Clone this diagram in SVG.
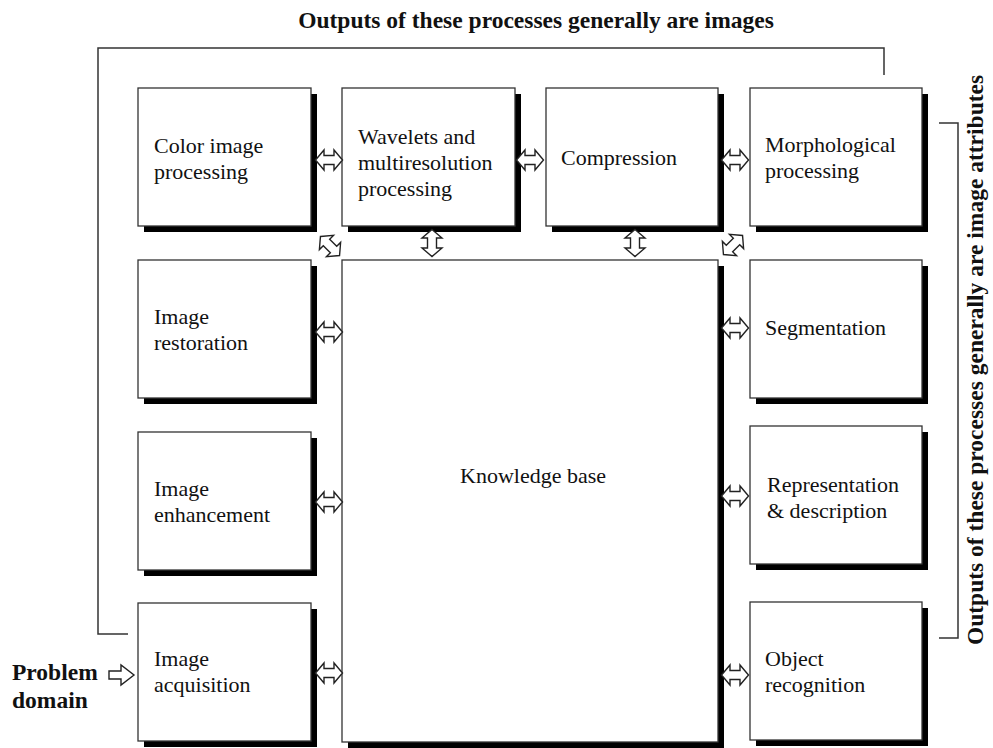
<svg xmlns="http://www.w3.org/2000/svg" width="993" height="748" viewBox="0 0 993 748">
<style>
.sh{fill:#000}
.bx{fill:#fff;stroke:#333;stroke-width:1.3}
.t{font-family:"Liberation Serif","Times New Roman",serif;font-size:22px;fill:#111}
.b{font-family:"Liberation Serif","Times New Roman",serif;font-size:23.5px;font-weight:bold;fill:#111}
.ln{fill:none;stroke:#333;stroke-width:1.5}
.ar{fill:#fff;stroke:#222;stroke-width:1.4;stroke-linejoin:miter}
</style>
<defs>
<path id="dbl" d="M-13.5,0 L-5,-10 L-5,-4.5 L5,-4.5 L5,-10 L13.5,0 L5,10 L5,4.5 L-5,4.5 L-5,10 Z"/>
</defs>
<rect width="993" height="748" fill="#fff"/>
<text class="b" x="536" y="28" text-anchor="middle">Outputs of these processes generally are images</text>
<text class="b" transform="translate(983,360) rotate(-90)" text-anchor="middle">Outputs of these processes generally are image attributes</text>
<g id="brackets">
<path class="ln" d="M128,634 H98 V48 H884 V75"/>
<path class="ln" d="M939,123 H958 V638 H939"/>
</g>
<g id="color"><rect class="sh" x="144" y="94" width="173" height="138"/><rect class="bx" x="138" y="88" width="173" height="138"/><text class="t" x="154" y="153">Color image</text><text class="t" x="154" y="179">processing</text></g>
<g id="wavelets"><rect class="sh" x="348" y="94" width="173" height="138"/><rect class="bx" x="342" y="88" width="173" height="138"/><text class="t" x="358" y="144">Wavelets and</text><text class="t" x="358" y="170">multiresolution</text><text class="t" x="358" y="196">processing</text></g>
<g id="compression"><rect class="sh" x="552" y="94" width="172" height="138"/><rect class="bx" x="546" y="88" width="172" height="138"/><text class="t" x="561" y="165">Compression</text></g>
<g id="morph"><rect class="sh" x="756" y="94" width="172" height="138"/><rect class="bx" x="750" y="88" width="172" height="138"/><text class="t" x="765" y="152">Morphological</text><text class="t" x="765" y="178">processing</text></g>
<g id="restoration"><rect class="sh" x="144" y="266" width="173" height="138"/><rect class="bx" x="138" y="260" width="173" height="138"/><text class="t" x="154" y="324">Image</text><text class="t" x="154" y="350">restoration</text></g>
<g id="kb"><rect class="sh" x="348" y="266" width="376" height="488"/><rect class="bx" x="342" y="260" width="376" height="482"/><text class="t" x="460" y="483">Knowledge base</text></g>
<g id="segmentation"><rect class="sh" x="756" y="266" width="172" height="138"/><rect class="bx" x="750" y="260" width="172" height="138"/><text class="t" x="765" y="335">Segmentation</text></g>
<g id="enhancement"><rect class="sh" x="144" y="438" width="173" height="138"/><rect class="bx" x="138" y="432" width="173" height="138"/><text class="t" x="154" y="496">Image</text><text class="t" x="154" y="522">enhancement</text></g>
<g id="representation"><rect class="sh" x="756" y="432" width="172" height="138"/><rect class="bx" x="750" y="426" width="172" height="138"/><text class="t" x="767" y="492">Representation</text><text class="t" x="767" y="518">&amp; description</text></g>
<g id="acquisition"><rect class="sh" x="144" y="609" width="173" height="138"/><rect class="bx" x="138" y="603" width="173" height="138"/><text class="t" x="154" y="666">Image</text><text class="t" x="154" y="692">acquisition</text></g>
<g id="recognition"><rect class="sh" x="756" y="608" width="172" height="138"/><rect class="bx" x="750" y="602" width="172" height="138"/><text class="t" x="765" y="666">Object</text><text class="t" x="765" y="692">recognition</text></g>
<g id="problem"><text class="b" x="12" y="680">Problem</text><text class="b" x="12" y="708">domain</text></g>
<g id="connectors">
<path class="ar" d="M109,671 L121,671 L121,665 L134,675 L121,685 L121,679 L109,679 Z"/>
<use href="#dbl" class="ar" transform="translate(329,160)"/>
<use href="#dbl" class="ar" transform="translate(530,160)"/>
<use href="#dbl" class="ar" transform="translate(735,160)"/>
<use href="#dbl" class="ar" transform="translate(329,332)"/>
<use href="#dbl" class="ar" transform="translate(329,502)"/>
<use href="#dbl" class="ar" transform="translate(329,673)"/>
<use href="#dbl" class="ar" transform="translate(735,328)"/>
<use href="#dbl" class="ar" transform="translate(735,496)"/>
<use href="#dbl" class="ar" transform="translate(735,675)"/>
<use href="#dbl" class="ar" transform="translate(432,243) rotate(90)"/>
<use href="#dbl" class="ar" transform="translate(635,243) rotate(90)"/>
<use href="#dbl" class="ar" transform="translate(330,246) rotate(45)"/>
<use href="#dbl" class="ar" transform="translate(733,245) rotate(-45)"/>
</g>
</svg>
